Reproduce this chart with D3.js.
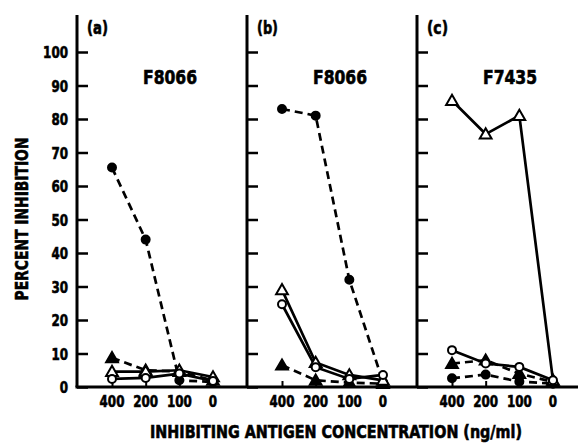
<!DOCTYPE html>
<html>
<head>
<meta charset="utf-8">
<script src="https://cdn.jsdelivr.net/npm/d3@7"></script>
<style>
  body { margin: 0; background: #fff; }
  svg { display: block; }
  text { font-family: "Liberation Sans Narrow", "DejaVu Sans Condensed", "Arial Narrow", sans-serif; font-weight: bold; fill: #000; stroke: #000; stroke-width: 0.6; }
</style>
</head>
<body>
<script>
// values, per panel (a), (b), (c)
const concentrations = ["400", "200", "100", "0"];
const panels = ["(a)", "(b)", "(c)"];
const strains = ["F8066", "F8066", "F7435"];
const yTicks = [0, 10, 20, 30, 40, 50, 60, 70, 80, 90, 100];

const filledCircle = [[65.5, 44, 2, 1.5], [83, 81, 32, 1.5], [2.6, 3.7, 1.6, 1]];
const filledTriangle = [[8.7, 5, 4.6, 2], [6.5, 2, 1.3, 1], [7, 8, 4, 1.5]];
const openTriangle = [[4.6, 4.6, 5, 3], [29, 7.3, 3.6, 2], [85.5, 75.5, 81, 2]];
const openCircle = [[2.4, 2.7, 4, 1.8], [24.7, 5.9, 2.4, 3.6], [11, 7, 6, 2]];

const series = [
  { name: "filledCircle", values: filledCircle, dashed: true, filled: true, symbol: d3.symbolCircle },
  { name: "filledTriangle", values: filledTriangle, dashed: true, filled: true, symbol: d3.symbolTriangle },
  { name: "openTriangle", values: openTriangle, dashed: false, filled: false, symbol: d3.symbolTriangle },
  { name: "openCircle", values: openCircle, dashed: false, filled: false, symbol: d3.symbolCircle }
];

const width = 578, height = 447;
const svg = d3.select("body").append("svg").attr("width", width).attr("height", height);

const panelX = d3.scaleBand().domain(panels).range([77, 587]);
const x = d3.scalePoint().domain(concentrations).range([35, 136]);
const y = d3.scaleLinear().domain([0, 100]).range([387, 52]);

// narrow bold numbers: squeeze each label to ~8.3px per digit
const digitW = 8.3;

// baseline across all panels
svg.append("line")
  .attr("x1", panelX("(a)") - 1.5).attr("x2", width)
  .attr("y1", y(0)).attr("y2", y(0))
  .attr("stroke", "#000").attr("stroke-width", 3);

panels.forEach((p, i) => {
  const g = svg.append("g").attr("transform", `translate(${panelX(p)},0)`);

  // vertical axis with inward ticks
  const yAxis = d3.axisRight(y).tickValues(yTicks).tickSize(11).tickFormat("");
  const ya = g.append("g").call(yAxis);
  ya.select(".domain").remove();
  ya.selectAll(".tick line").attr("stroke-width", 2.5);
  g.append("line").attr("x1", 0).attr("x2", 0).attr("y1", 15).attr("y2", y(0))
    .attr("stroke", "#000").attr("stroke-width", 3);

  if (i === 0) {
    g.selectAll(".ylab").data(yTicks).join("text")
      .attr("class", "ylab")
      .attr("x", -9).attr("y", d => y(d) + 6)
      .attr("text-anchor", "end")
      .attr("font-size", 16.5)
      .attr("textLength", d => String(d).length * digitW)
      .attr("lengthAdjust", "spacingAndGlyphs")
      .text(d => d);
  }

  // x ticks pointing up
  const xAxis = d3.axisTop(x).tickSize(6).tickFormat("");
  const xa = g.append("g").attr("transform", `translate(0,${y(0)})`).call(xAxis);
  xa.select(".domain").remove();
  xa.selectAll(".tick line").attr("stroke-width", 2);

  g.selectAll(".xlab").data(concentrations).join("text")
    .attr("class", "xlab")
    .attr("x", d => x(d)).attr("y", 407)
    .attr("text-anchor", "middle")
    .attr("font-size", 16.5)
    .attr("textLength", d => d.length * digitW)
    .attr("lengthAdjust", "spacingAndGlyphs")
    .text(d => d);

  g.append("text").attr("x", 10).attr("y", 34).attr("font-size", 18)
    .attr("textLength", 21).attr("lengthAdjust", "spacingAndGlyphs").text(p);
  g.append("text").attr("x", 93).attr("y", 84).attr("text-anchor", "middle")
    .attr("font-size", 19)
    .attr("textLength", 54).attr("lengthAdjust", "spacingAndGlyphs")
    .text(strains[i]);

  const line = d3.line().x(d => x(d.c)).y(d => y(d.v));

  series.forEach(s => {
    const pts = concentrations.map((c, j) => ({ c, v: s.values[i][j] }));
    g.append("path").datum(pts)
      .attr("d", line)
      .attr("fill", "none")
      .attr("stroke", "#000")
      .attr("stroke-width", 2.7)
      .attr("stroke-dasharray", s.dashed ? "8,5" : null);
  });

  series.forEach(s => {
    const pts = concentrations.map((c, j) => ({ c, v: s.values[i][j] }));
    const isTri = s.symbol === d3.symbolTriangle;
    g.selectAll(null).data(pts).join("path")
      .attr("transform", d => `translate(${x(d.c)},${y(d.v) + (isTri ? 1 : 0)})`)
      .attr("d", d3.symbol().type(s.symbol).size(isTri ? 60 : 50))
      .attr("fill", s.filled ? "#000" : "#fff")
      .attr("stroke", "#000")
      .attr("stroke-width", 2);
  });
});

// axis titles
svg.append("text")
  .attr("transform", "translate(28,219) rotate(-90)")
  .attr("text-anchor", "middle")
  .attr("font-size", 18)
  .attr("textLength", 163).attr("lengthAdjust", "spacingAndGlyphs")
  .text("PERCENT INHIBITION");

svg.append("text")
  .attr("x", 336).attr("y", 438)
  .attr("text-anchor", "middle")
  .attr("font-size", 18)
  .attr("textLength", 372).attr("lengthAdjust", "spacingAndGlyphs")
  .text("INHIBITING ANTIGEN CONCENTRATION (ng/ml)");
</script>
</body>
</html>
